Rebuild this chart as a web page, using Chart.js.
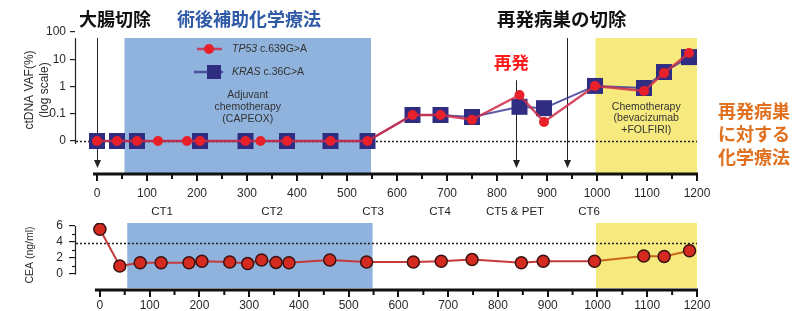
<!DOCTYPE html>
<html>
<head>
<meta charset="utf-8">
<script src="https://cdn.jsdelivr.net/npm/chart.js@4.4.1/dist/chart.umd.min.js"></script>
<style>
  body { margin: 0; background: #fff; }
  #wrap { position: relative; width: 793px; height: 311px; overflow: hidden; }
  .box { position: absolute; left: 0; width: 793px; }
  .jp { position: absolute; font-family: "Noto Sans CJK JP", sans-serif; font-weight: 700;
        font-size: 18px; line-height: 18px; white-space: nowrap; }
</style>
</head>
<body>
<div id="wrap">
  <div class="box" style="top:0;height:220px"><canvas id="vaf"></canvas></div>
  <div class="box" style="top:220px;height:91px"><canvas id="cea"></canvas></div>

  <div class="jp" style="left:79px;top:9px;color:#111">大腸切除</div>
  <div class="jp" style="left:177px;top:9px;color:#2f5aa6">術後補助化学療法</div>
  <div class="jp" style="left:497px;top:9px;color:#111;font-size:18.5px">再発病巣の切除</div>
  <div class="jp" style="left:494px;top:53px;color:#ff1a1a;font-size:17.5px">再発</div>
  <div class="jp" style="left:718px;top:99px;color:#e0701e;line-height:23px">再発病巣<br>に対する<br>化学療法</div>
</div>

<script>
// days after surgery and variant allele fractions (%); 0 = not detected
const vafDays  = [0, 40, 80, 122, 180, 206, 297, 327, 380, 467, 541, 631, 687, 750, 845, 894, 996, 1094, 1134, 1184];
const tp53Vaf  = [0, 0, 0, 0, 0, 0, 0, 0, 0, 0, 0, 0.09, 0.09, 0.06, 0.49, 0.05, 1.05, 0.68, 3.1, 17];
const krasDays = [0, 40, 80, 206, 297, 380, 467, 541, 631, 687, 750, 845, 894, 996, 1094, 1134, 1184];
const krasVaf  = [0, 0, 0, 0, 0, 0, 0, 0, 0.09, 0.09, 0.076, 0.18, 0.16, 1.05, 0.88, 3.4, 12];

// CEA (ng/ml)
const ceaDays = [0, 40, 81, 123, 179, 205, 261, 297, 325, 354, 380, 462, 536, 630, 686, 748, 847, 891, 994, 1093, 1134, 1185];
const ceaVals = [5.6, 1.0, 1.4, 1.4, 1.4, 1.6, 1.5, 1.3, 1.75, 1.45, 1.4, 1.75, 1.5, 1.5, 1.6, 1.8, 1.4, 1.6, 1.6, 2.25, 2.2, 2.9];
const ceaLimit = 3.9;

const xTicks = [0, 100, 200, 300, 400, 500, 600, 700, 800, 900, 1000, 1100, 1200];
const xMinor = [50, 150, 250, 350, 450, 550, 650, 750, 850, 950, 1050, 1150];
const vafTicks = [0.01, 0.1, 1, 10, 100];
const vafZero = 0.01;          // plotted level of "0"
const ceaTicks = [0, 2, 4, 6];
const ceaMinor = [1, 3, 5];

const adjuvantDays = [55, 548];
const chemoDays = [997, 1200];
const arrowDays = [0, 838, 940];
const arrowFrom = [60, 1.7, 60];
const ctDays = [130, 350, 552, 686, 836, 984];
const ctLabels = ['CT1', 'CT2', 'CT3', 'CT4', 'CT5 & PET', 'CT6'];

const BLUE = '#8fb3dd';
const YELLOW = '#f6ea7e';
const FONT = "'Liberation Sans', Arial, sans-serif";
const INK = '#2a2a2a';

Chart.defaults.font.family = FONT;
Chart.defaults.color = INK;

function noPad(s) { s.paddingTop = s.paddingBottom = s.paddingLeft = s.paddingRight = 0; }

function vTitle(ctx, lines, x, y, size) {
  ctx.save();
  ctx.translate(x, y);
  ctx.rotate(-Math.PI / 2);
  ctx.font = size + 'px ' + FONT;
  ctx.fillStyle = INK;
  ctx.textAlign = 'center';
  ctx.textBaseline = 'middle';
  lines.forEach((t, i) => ctx.fillText(t, 0, i * 15));
  ctx.restore();
}

function shade(ctx, x, range, top, bottom, color) {
  const x0 = x.getPixelForValue(range[0]), x1 = x.getPixelForValue(range[1]);
  ctx.fillStyle = color;
  ctx.fillRect(x0, top, x1 - x0, bottom - top);
}

function xAxisLine(ctx, x, yPix, from) {
  ctx.strokeStyle = '#111';
  ctx.lineWidth = 3;
  ctx.beginPath();
  ctx.moveTo(x.getPixelForValue(from), yPix + 1);
  ctx.lineTo(x.getPixelForValue(1200) + 1, yPix + 1);
  ctx.stroke();
  ctx.lineWidth = 2;
  xMinor.forEach(d => {
    const px = x.getPixelForValue(d);
    ctx.beginPath(); ctx.moveTo(px, yPix); ctx.lineTo(px, yPix + 6); ctx.stroke();
  });
}

const vafDecor = {
  id: 'vafDecor',
  beforeDatasetsDraw(chart) {
    const {ctx, chartArea: a, scales: {x, y}} = chart;
    ctx.save();
    shade(ctx, x, adjuvantDays, a.top + 6, a.bottom, BLUE);
    shade(ctx, x, chemoDays, a.top + 6, a.bottom, YELLOW);

    // dotted "0" line
    const y0 = Math.round(y.getPixelForValue(vafZero)) + 0.5;
    ctx.strokeStyle = '#222';
    ctx.lineWidth = 1.5;
    ctx.setLineDash([2, 2]);
    ctx.beginPath(); ctx.moveTo(a.left + 1, y0); ctx.lineTo(a.right, y0); ctx.stroke();
    ctx.setLineDash([]);

    // event arrows
    ctx.strokeStyle = '#222';
    ctx.fillStyle = '#222';
    ctx.lineWidth = 1;
    arrowDays.forEach((d, i) => {
      const px = Math.round(x.getPixelForValue(d)) + 0.5;
      const tip = a.bottom - 5;
      ctx.beginPath(); ctx.moveTo(px, y.getPixelForValue(arrowFrom[i])); ctx.lineTo(px, tip - 6); ctx.stroke();
      ctx.beginPath(); ctx.moveTo(px - 3.5, tip - 8); ctx.lineTo(px + 3.5, tip - 8); ctx.lineTo(px, tip); ctx.closePath(); ctx.fill();
    });

    // treatment notes
    ctx.font = '10.5px ' + FONT;
    ctx.fillStyle = '#333';
    ctx.textAlign = 'center';
    ctx.textBaseline = 'middle';
    const bx = x.getPixelForValue((adjuvantDays[0] + adjuvantDays[1]) / 2);
    ['Adjuvant', 'chemotherapy', '(CAPEOX)'].forEach((t, i) => ctx.fillText(t, bx, 95 + i * 12));
    const yx = x.getPixelForValue((chemoDays[0] + chemoDays[1]) / 2);
    ['Chemotherapy', '(bevacizumab', '+FOLFIRI)'].forEach((t, i) => ctx.fillText(t, yx, 107 + i * 11.5));

    // legend
    const ds = chart.data.datasets;
    const lx = 197, ly = 49;
    ctx.strokeStyle = ds[0].borderColor; ctx.lineWidth = 2.5;
    ctx.beginPath(); ctx.moveTo(lx, ly); ctx.lineTo(lx + 25, ly); ctx.stroke();
    ctx.fillStyle = ds[0].pointBackgroundColor;
    ctx.beginPath(); ctx.arc(lx + 12, ly, 5, 0, Math.PI * 2); ctx.fill();
    ctx.strokeStyle = ds[1].borderColor; ctx.lineWidth = 2.5;
    ctx.beginPath(); ctx.moveTo(lx - 3, ly + 23); ctx.lineTo(lx + 26, ly + 23); ctx.stroke();
    ctx.fillStyle = ds[1].pointBackgroundColor;
    ctx.fillRect(lx + 10, ly + 16, 14, 14);
    ctx.fillStyle = '#333';
    ctx.textAlign = 'left';
    [[ds[0].label, 'c.639G>A', 0], [ds[1].label, 'c.36C>A', 23]].forEach(([gene, mut, dy]) => {
      ctx.font = 'italic 10.5px ' + FONT;
      ctx.fillText(gene, lx + 35, ly + dy);
      const w = ctx.measureText(gene + ' ').width;
      ctx.font = '10.5px ' + FONT;
      ctx.fillText(mut, lx + 35 + w, ly + dy);
    });
    ctx.restore();
  },
  afterDraw(chart) {
    const {ctx, chartArea: a, scales: {x, y}} = chart;
    ctx.save();
    xAxisLine(ctx, x, a.bottom, -8);
    ctx.strokeStyle = '#222';
    ctx.lineWidth = 1.2;
    ctx.beginPath();
    ctx.moveTo(a.left + 0.5, y.getPixelForValue(60));
    ctx.lineTo(a.left + 0.5, y.getPixelForValue(vafZero) + 3);
    ctx.stroke();
    vTitle(ctx, ['ctDNA VAF(%)', '(log scale)'], 30, 90, 12);
    ctx.font = '11.5px ' + FONT;
    ctx.fillStyle = '#222';
    ctx.textAlign = 'center';
    ctx.textBaseline = 'middle';
    ctDays.forEach((d, i) => ctx.fillText(ctLabels[i], x.getPixelForValue(d), 212));
    ctx.restore();
  }
};

const ceaDecor = {
  id: 'ceaDecor',
  beforeDatasetsDraw(chart) {
    const {ctx, chartArea: a, scales: {x, y}} = chart;
    ctx.save();
    shade(ctx, x, adjuvantDays, a.top, a.bottom - 1, BLUE);
    shade(ctx, x, chemoDays, a.top, a.bottom - 1, YELLOW);
    const yl = Math.round(y.getPixelForValue(ceaLimit)) + 0.5;
    ctx.strokeStyle = '#222';
    ctx.lineWidth = 1.5;
    ctx.setLineDash([2, 2]);
    ctx.beginPath(); ctx.moveTo(a.left + 1, yl); ctx.lineTo(a.right, yl); ctx.stroke();
    ctx.restore();
  },
  afterDraw(chart) {
    const {ctx, chartArea: a, scales: {x, y}} = chart;
    ctx.save();
    xAxisLine(ctx, x, a.bottom, -10);
    ctx.strokeStyle = '#222';
    ctx.lineWidth = 1.2;
    ctx.beginPath();
    ctx.moveTo(a.left + 0.5, y.getPixelForValue(6));
    ctx.lineTo(a.left + 0.5, y.getPixelForValue(0) + 0.6);
    ctx.stroke();
    ceaMinor.forEach(v => {
      const py = Math.round(y.getPixelForValue(v)) + 0.5;
      ctx.beginPath(); ctx.moveTo(a.left - 3, py); ctx.lineTo(a.left, py); ctx.stroke();
    });
    vTitle(ctx, ['CEA (ng/ml)'], 30, 35, 10.5);
    ctx.restore();
  }
};

function xScale(min, labelPad, height) {
  return {
    type: 'linear', min: min, max: 1200,
    afterBuildTicks: s => { s.ticks = xTicks.map(v => ({value: v})); },
    afterFit: s => { s.height = height; noPad(s); },
    ticks: { font: { size: 12 }, color: INK, padding: labelPad, maxRotation: 0, autoSkip: false,
             callback: v => String(v) },
    grid: { drawOnChartArea: false, drawTicks: true, tickLength: 8, color: '#111', lineWidth: 2 },
    border: { display: false }
  };
}

new Chart(document.getElementById('vaf'), {
  type: 'line',
  data: {
    datasets: [
      {
        label: 'TP53',
        data: vafDays.map((d, i) => ({x: d, y: tp53Vaf[i] || vafZero})),
        borderColor: 'rgba(206,44,72,0.85)',
        borderWidth: 2.5,
        pointStyle: 'circle',
        pointRadius: 5,
        pointBackgroundColor: '#e8202a',
        pointBorderColor: '#e8202a',
        pointBorderWidth: 0
      },
      {
        label: 'KRAS',
        data: krasDays.map((d, i) => ({x: d, y: krasVaf[i] || vafZero})),
        borderColor: 'rgba(64,60,150,0.85)',
        borderWidth: 2,
        pointStyle: 'rect',
        pointRadius: 11.3,
        pointBackgroundColor: '#2f2c82',
        pointBorderColor: '#2f2c82',
        pointBorderWidth: 0
      }
    ]
  },
  options: {
    responsive: true,
    maintainAspectRatio: false,
    animation: false,
    layout: { autoPadding: false, padding: { left: 0, right: 96, top: 32, bottom: 0 } },
    plugins: { legend: { display: false }, tooltip: { enabled: false } },
    scales: {
      x: xScale(-44, 5, 47),
      y: {
        type: 'logarithmic', min: 0.00067, max: 100,
        afterBuildTicks: s => { s.ticks = vafTicks.map(v => ({value: v})); },
        afterFit: s => { s.width = 75; noPad(s); },
        ticks: { font: { size: 12 }, color: INK, padding: 4, callback: v => v === vafZero ? '0' : String(v) },
        grid: { drawOnChartArea: false, drawTicks: true, tickLength: 5, color: '#222', lineWidth: 1.2 },
        border: { display: false }
      }
    }
  },
  plugins: [vafDecor]
});

new Chart(document.getElementById('cea'), {
  type: 'line',
  data: {
    datasets: [{
      label: 'CEA',
      data: ceaDays.map((d, i) => ({x: d, y: ceaVals[i]})),
      borderWidth: 2,
      borderColor: '#c43a3a',
      segment: { borderColor: c => c.p0.parsed.x >= chemoDays[0] - 5 ? '#c8661e' : '#c43a3a' },
      pointRadius: 6,
      pointBackgroundColor: '#d42a20',
      pointBorderColor: '#3a1212',
      pointBorderWidth: 1.5
    }]
  },
  options: {
    responsive: true,
    maintainAspectRatio: false,
    animation: false,
    layout: { autoPadding: false, padding: { left: 0, right: 96, top: 3, bottom: 0 } },
    plugins: { legend: { display: false }, tooltip: { enabled: false } },
    scales: {
      x: xScale(-50, 1, 22),
      y: {
        type: 'linear', min: -1.875, max: 6.375,
        afterBuildTicks: s => { s.ticks = ceaTicks.map(v => ({value: v})); },
        afterFit: s => { s.width = 75; noPad(s); },
        ticks: { font: { size: 12 }, color: INK, padding: 6 },
        grid: { drawOnChartArea: false, drawTicks: true, tickLength: 6, color: '#222', lineWidth: 1.2 },
        border: { display: false }
      }
    }
  },
  plugins: [ceaDecor]
});
</script>
</body>
</html>
